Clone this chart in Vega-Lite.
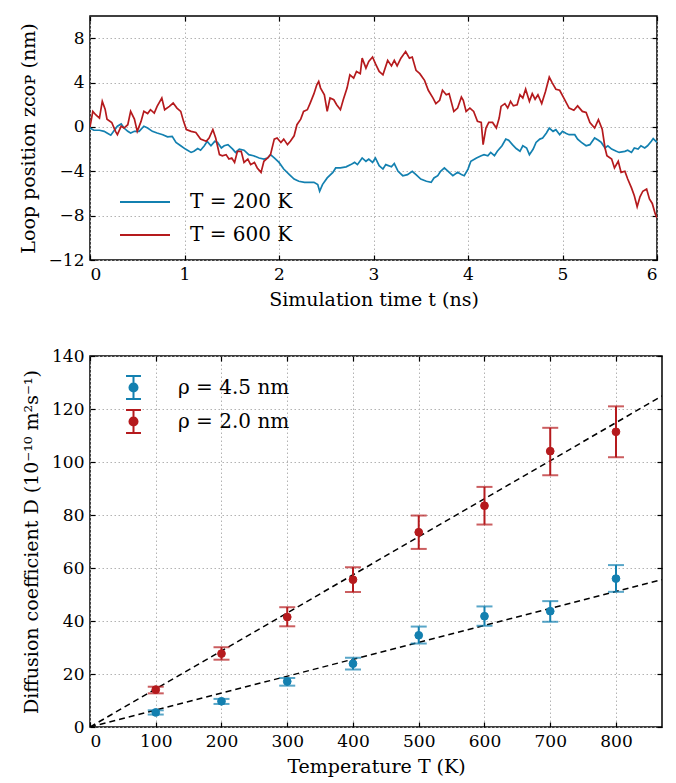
{
  "$schema": "https://vega.github.io/schema/vega-lite/v6.json",
  "padding": {"left": 18, "top": 14, "right": 12, "bottom": 0},
  "spacing": 36,
  "config": {
    "font": "DejaVu Serif",
    "view": {"stroke": "#000", "strokeWidth": 1.5},
    "axis": {"domain": false, "tickColor": "#000", "tickWidth": 1.2, "tickSize": -5, "labelFont": "DejaVu Serif", "labelFontSize": 17, "labelColor": "#000", "titleFont": "DejaVu Serif", "titleFontSize": 19, "titleFontWeight": "normal", "titleColor": "#000", "gridColor": "#b3b3b3", "gridDash": [1.5, 2.5], "gridWidth": 1, "labelPadding": 11, "titlePadding": 8},
    "axisY": {"titlePadding": 10},
    "legend": {"labelFont": "DejaVu Serif", "labelFontSize": 20, "labelColor": "#000", "title": null, "padding": 0}
  },
  "resolve": {"scale": {"color": "independent", "fill": "independent", "stroke": "independent"}, "legend": {"color": "independent", "fill": "independent", "stroke": "independent"}},
  "datasets": {
    "walk": [
      {"t":0,"z":-0.1,"s":"200 K"},{"t":0.04,"z":-0.3,"s":"200 K"},{"t":0.1,"z":-0.3,"s":"200 K"},{"t":0.15,"z":-0.4,"s":"200 K"},{"t":0.18,"z":-0.55,"s":"200 K"},{"t":0.22,"z":-0.75,"s":"200 K"},{"t":0.25,"z":-0.4,"s":"200 K"},{"t":0.29,"z":0.06,"s":"200 K"},{"t":0.33,"z":0.27,"s":"200 K"},{"t":0.36,"z":-0.1,"s":"200 K"},{"t":0.4,"z":-0.4,"s":"200 K"},{"t":0.43,"z":-0.55,"s":"200 K"},{"t":0.47,"z":-0.4,"s":"200 K"},{"t":0.52,"z":-0.4,"s":"200 K"},{"t":0.57,"z":0.06,"s":"200 K"},{"t":0.61,"z":-0.1,"s":"200 K"},{"t":0.66,"z":-0.4,"s":"200 K"},{"t":0.71,"z":-0.55,"s":"200 K"},{"t":0.77,"z":-0.7,"s":"200 K"},{"t":0.82,"z":-0.9,"s":"200 K"},{"t":0.87,"z":-0.85,"s":"200 K"},{"t":0.91,"z":-1.4,"s":"200 K"},{"t":0.96,"z":-1.7,"s":"200 K"},{"t":1.01,"z":-2.0,"s":"200 K"},{"t":1.07,"z":-2.3,"s":"200 K"},{"t":1.1,"z":-2.2,"s":"200 K"},{"t":1.14,"z":-1.95,"s":"200 K"},{"t":1.17,"z":-2.1,"s":"200 K"},{"t":1.21,"z":-1.7,"s":"200 K"},{"t":1.24,"z":-1.3,"s":"200 K"},{"t":1.28,"z":-1.7,"s":"200 K"},{"t":1.32,"z":-1.3,"s":"200 K"},{"t":1.35,"z":-1.4,"s":"200 K"},{"t":1.39,"z":-1.9,"s":"200 K"},{"t":1.42,"z":-1.7,"s":"200 K"},{"t":1.46,"z":-1.6,"s":"200 K"},{"t":1.51,"z":-2.0,"s":"200 K"},{"t":1.54,"z":-2.3,"s":"200 K"},{"t":1.58,"z":-2.0,"s":"200 K"},{"t":1.63,"z":-2.1,"s":"200 K"},{"t":1.68,"z":-2.5,"s":"200 K"},{"t":1.73,"z":-2.6,"s":"200 K"},{"t":1.79,"z":-2.8,"s":"200 K"},{"t":1.84,"z":-2.9,"s":"200 K"},{"t":1.88,"z":-2.8,"s":"200 K"},{"t":1.91,"z":-2.5,"s":"200 K"},{"t":1.95,"z":-2.8,"s":"200 K"},{"t":2.0,"z":-3.2,"s":"200 K"},{"t":2.05,"z":-3.8,"s":"200 K"},{"t":2.11,"z":-4.3,"s":"200 K"},{"t":2.16,"z":-4.7,"s":"200 K"},{"t":2.21,"z":-4.9,"s":"200 K"},{"t":2.27,"z":-5.0,"s":"200 K"},{"t":2.32,"z":-5.0,"s":"200 K"},{"t":2.37,"z":-5.0,"s":"200 K"},{"t":2.41,"z":-5.2,"s":"200 K"},{"t":2.43,"z":-5.8,"s":"200 K"},{"t":2.46,"z":-5.2,"s":"200 K"},{"t":2.51,"z":-4.6,"s":"200 K"},{"t":2.57,"z":-4.1,"s":"200 K"},{"t":2.6,"z":-3.7,"s":"200 K"},{"t":2.65,"z":-3.7,"s":"200 K"},{"t":2.71,"z":-3.6,"s":"200 K"},{"t":2.76,"z":-3.4,"s":"200 K"},{"t":2.8,"z":-3.2,"s":"200 K"},{"t":2.83,"z":-3.4,"s":"200 K"},{"t":2.88,"z":-2.8,"s":"200 K"},{"t":2.92,"z":-3.1,"s":"200 K"},{"t":2.95,"z":-2.9,"s":"200 K"},{"t":2.99,"z":-3.2,"s":"200 K"},{"t":3.02,"z":-2.8,"s":"200 K"},{"t":3.06,"z":-3.5,"s":"200 K"},{"t":3.1,"z":-3.8,"s":"200 K"},{"t":3.13,"z":-3.4,"s":"200 K"},{"t":3.19,"z":-3.6,"s":"200 K"},{"t":3.22,"z":-3.3,"s":"200 K"},{"t":3.26,"z":-4.0,"s":"200 K"},{"t":3.31,"z":-4.4,"s":"200 K"},{"t":3.36,"z":-4.3,"s":"200 K"},{"t":3.41,"z":-4.0,"s":"200 K"},{"t":3.45,"z":-4.3,"s":"200 K"},{"t":3.5,"z":-4.7,"s":"200 K"},{"t":3.56,"z":-4.9,"s":"200 K"},{"t":3.61,"z":-5.0,"s":"200 K"},{"t":3.64,"z":-4.6,"s":"200 K"},{"t":3.68,"z":-4.4,"s":"200 K"},{"t":3.71,"z":-4.0,"s":"200 K"},{"t":3.75,"z":-3.7,"s":"200 K"},{"t":3.79,"z":-4.0,"s":"200 K"},{"t":3.84,"z":-4.4,"s":"200 K"},{"t":3.89,"z":-4.1,"s":"200 K"},{"t":3.93,"z":-4.3,"s":"200 K"},{"t":3.96,"z":-4.4,"s":"200 K"},{"t":4.0,"z":-3.8,"s":"200 K"},{"t":4.03,"z":-3.1,"s":"200 K"},{"t":4.09,"z":-2.8,"s":"200 K"},{"t":4.14,"z":-2.6,"s":"200 K"},{"t":4.17,"z":-2.5,"s":"200 K"},{"t":4.21,"z":-2.6,"s":"200 K"},{"t":4.24,"z":-2.3,"s":"200 K"},{"t":4.28,"z":-2.6,"s":"200 K"},{"t":4.31,"z":-2.2,"s":"200 K"},{"t":4.36,"z":-1.7,"s":"200 K"},{"t":4.4,"z":-1.1,"s":"200 K"},{"t":4.43,"z":-1.2,"s":"200 K"},{"t":4.47,"z":-1.6,"s":"200 K"},{"t":4.51,"z":-1.95,"s":"200 K"},{"t":4.55,"z":-2.2,"s":"200 K"},{"t":4.58,"z":-1.7,"s":"200 K"},{"t":4.62,"z":-1.9,"s":"200 K"},{"t":4.65,"z":-2.5,"s":"200 K"},{"t":4.69,"z":-2.0,"s":"200 K"},{"t":4.72,"z":-1.4,"s":"200 K"},{"t":4.76,"z":-1.1,"s":"200 K"},{"t":4.79,"z":-1.0,"s":"200 K"},{"t":4.83,"z":-0.55,"s":"200 K"},{"t":4.86,"z":-0.1,"s":"200 K"},{"t":4.9,"z":-0.4,"s":"200 K"},{"t":4.93,"z":-0.25,"s":"200 K"},{"t":4.97,"z":-0.7,"s":"200 K"},{"t":5.0,"z":-0.4,"s":"200 K"},{"t":5.04,"z":-0.6,"s":"200 K"},{"t":5.07,"z":-0.7,"s":"200 K"},{"t":5.13,"z":-0.7,"s":"200 K"},{"t":5.16,"z":-1.1,"s":"200 K"},{"t":5.2,"z":-1.4,"s":"200 K"},{"t":5.25,"z":-1.7,"s":"200 K"},{"t":5.29,"z":-1.6,"s":"200 K"},{"t":5.34,"z":-1.0,"s":"200 K"},{"t":5.38,"z":-1.2,"s":"200 K"},{"t":5.41,"z":-1.4,"s":"200 K"},{"t":5.45,"z":-1.9,"s":"200 K"},{"t":5.48,"z":-1.7,"s":"200 K"},{"t":5.52,"z":-2.0,"s":"200 K"},{"t":5.57,"z":-2.2,"s":"200 K"},{"t":5.6,"z":-2.3,"s":"200 K"},{"t":5.66,"z":-2.2,"s":"200 K"},{"t":5.69,"z":-2.1,"s":"200 K"},{"t":5.73,"z":-2.3,"s":"200 K"},{"t":5.76,"z":-1.9,"s":"200 K"},{"t":5.8,"z":-2.0,"s":"200 K"},{"t":5.83,"z":-1.7,"s":"200 K"},{"t":5.87,"z":-1.9,"s":"200 K"},{"t":5.9,"z":-1.7,"s":"200 K"},{"t":5.94,"z":-1.3,"s":"200 K"},{"t":5.96,"z":-1.05,"s":"200 K"},{"t":6.0,"z":-1.4,"s":"200 K"},
      {"t":0,"z":0,"s":"600 K"},{"t":0.03,"z":1.4,"s":"600 K"},{"t":0.06,"z":1.1,"s":"600 K"},{"t":0.1,"z":0.8,"s":"600 K"},{"t":0.13,"z":2.3,"s":"600 K"},{"t":0.16,"z":1.6,"s":"600 K"},{"t":0.18,"z":0.7,"s":"600 K"},{"t":0.23,"z":0.4,"s":"600 K"},{"t":0.27,"z":-0.4,"s":"600 K"},{"t":0.29,"z":-0.7,"s":"600 K"},{"t":0.33,"z":0.06,"s":"600 K"},{"t":0.36,"z":-0.1,"s":"600 K"},{"t":0.4,"z":0.2,"s":"600 K"},{"t":0.43,"z":1.4,"s":"600 K"},{"t":0.47,"z":0.7,"s":"600 K"},{"t":0.5,"z":-0.4,"s":"600 K"},{"t":0.54,"z":0.5,"s":"600 K"},{"t":0.57,"z":1.4,"s":"600 K"},{"t":0.61,"z":1.2,"s":"600 K"},{"t":0.64,"z":1.55,"s":"600 K"},{"t":0.68,"z":1.25,"s":"600 K"},{"t":0.71,"z":1.85,"s":"600 K"},{"t":0.76,"z":2.6,"s":"600 K"},{"t":0.79,"z":1.55,"s":"600 K"},{"t":0.84,"z":1.85,"s":"600 K"},{"t":0.88,"z":2.15,"s":"600 K"},{"t":0.92,"z":1.7,"s":"600 K"},{"t":0.96,"z":1.4,"s":"600 K"},{"t":0.99,"z":0.5,"s":"600 K"},{"t":1.02,"z":-0.24,"s":"600 K"},{"t":1.07,"z":-0.4,"s":"600 K"},{"t":1.12,"z":-0.5,"s":"600 K"},{"t":1.17,"z":-1.1,"s":"600 K"},{"t":1.23,"z":-1.3,"s":"600 K"},{"t":1.26,"z":-1.0,"s":"600 K"},{"t":1.3,"z":-0.24,"s":"600 K"},{"t":1.33,"z":-1.0,"s":"600 K"},{"t":1.37,"z":-2.5,"s":"600 K"},{"t":1.4,"z":-2.6,"s":"600 K"},{"t":1.44,"z":-2.5,"s":"600 K"},{"t":1.47,"z":-2.9,"s":"600 K"},{"t":1.5,"z":-2.8,"s":"600 K"},{"t":1.53,"z":-3.2,"s":"600 K"},{"t":1.56,"z":-2.2,"s":"600 K"},{"t":1.6,"z":-2.2,"s":"600 K"},{"t":1.63,"z":-3.2,"s":"600 K"},{"t":1.67,"z":-2.9,"s":"600 K"},{"t":1.7,"z":-3.4,"s":"600 K"},{"t":1.74,"z":-3.2,"s":"600 K"},{"t":1.77,"z":-3.7,"s":"600 K"},{"t":1.81,"z":-4.1,"s":"600 K"},{"t":1.84,"z":-3.1,"s":"600 K"},{"t":1.88,"z":-2.8,"s":"600 K"},{"t":1.91,"z":-2.5,"s":"600 K"},{"t":1.95,"z":-1.1,"s":"600 K"},{"t":1.98,"z":-1.0,"s":"600 K"},{"t":2.02,"z":-1.4,"s":"600 K"},{"t":2.05,"z":-1.1,"s":"600 K"},{"t":2.09,"z":-1.6,"s":"600 K"},{"t":2.12,"z":-1.3,"s":"600 K"},{"t":2.16,"z":-0.8,"s":"600 K"},{"t":2.19,"z":0.2,"s":"600 K"},{"t":2.23,"z":0.7,"s":"600 K"},{"t":2.26,"z":1.4,"s":"600 K"},{"t":2.3,"z":1.55,"s":"600 K"},{"t":2.33,"z":2.15,"s":"600 K"},{"t":2.37,"z":3.0,"s":"600 K"},{"t":2.4,"z":3.8,"s":"600 K"},{"t":2.42,"z":4.1,"s":"600 K"},{"t":2.44,"z":3.5,"s":"600 K"},{"t":2.48,"z":2.9,"s":"600 K"},{"t":2.51,"z":1.4,"s":"600 K"},{"t":2.54,"z":2.6,"s":"600 K"},{"t":2.58,"z":2.45,"s":"600 K"},{"t":2.61,"z":2.0,"s":"600 K"},{"t":2.65,"z":1.55,"s":"600 K"},{"t":2.68,"z":2.45,"s":"600 K"},{"t":2.72,"z":3.5,"s":"600 K"},{"t":2.75,"z":4.7,"s":"600 K"},{"t":2.79,"z":4.4,"s":"600 K"},{"t":2.82,"z":5.0,"s":"600 K"},{"t":2.86,"z":4.8,"s":"600 K"},{"t":2.88,"z":6.2,"s":"600 K"},{"t":2.92,"z":5.3,"s":"600 K"},{"t":2.95,"z":5.9,"s":"600 K"},{"t":2.99,"z":6.3,"s":"600 K"},{"t":3.02,"z":5.7,"s":"600 K"},{"t":3.06,"z":5.0,"s":"600 K"},{"t":3.1,"z":4.7,"s":"600 K"},{"t":3.15,"z":6.0,"s":"600 K"},{"t":3.19,"z":5.5,"s":"600 K"},{"t":3.22,"z":6.0,"s":"600 K"},{"t":3.25,"z":5.5,"s":"600 K"},{"t":3.29,"z":6.2,"s":"600 K"},{"t":3.34,"z":6.8,"s":"600 K"},{"t":3.38,"z":6.2,"s":"600 K"},{"t":3.41,"z":6.3,"s":"600 K"},{"t":3.45,"z":5.1,"s":"600 K"},{"t":3.49,"z":4.8,"s":"600 K"},{"t":3.54,"z":4.2,"s":"600 K"},{"t":3.58,"z":3.3,"s":"600 K"},{"t":3.63,"z":2.6,"s":"600 K"},{"t":3.66,"z":2.1,"s":"600 K"},{"t":3.7,"z":2.4,"s":"600 K"},{"t":3.73,"z":3.3,"s":"600 K"},{"t":3.77,"z":2.9,"s":"600 K"},{"t":3.8,"z":3.0,"s":"600 K"},{"t":3.85,"z":1.4,"s":"600 K"},{"t":3.89,"z":1.7,"s":"600 K"},{"t":3.93,"z":2.7,"s":"600 K"},{"t":3.95,"z":2.4,"s":"600 K"},{"t":3.98,"z":1.4,"s":"600 K"},{"t":4.02,"z":1.7,"s":"600 K"},{"t":4.06,"z":1.4,"s":"600 K"},{"t":4.1,"z":0.5,"s":"600 K"},{"t":4.14,"z":0.4,"s":"600 K"},{"t":4.16,"z":-1.6,"s":"600 K"},{"t":4.19,"z":-0.1,"s":"600 K"},{"t":4.22,"z":0.4,"s":"600 K"},{"t":4.26,"z":0.4,"s":"600 K"},{"t":4.3,"z":-0.1,"s":"600 K"},{"t":4.33,"z":0.8,"s":"600 K"},{"t":4.35,"z":1.85,"s":"600 K"},{"t":4.39,"z":2.1,"s":"600 K"},{"t":4.42,"z":1.7,"s":"600 K"},{"t":4.45,"z":2.3,"s":"600 K"},{"t":4.48,"z":1.9,"s":"600 K"},{"t":4.52,"z":2.0,"s":"600 K"},{"t":4.55,"z":2.9,"s":"600 K"},{"t":4.58,"z":2.6,"s":"600 K"},{"t":4.61,"z":3.4,"s":"600 K"},{"t":4.65,"z":2.3,"s":"600 K"},{"t":4.68,"z":3.0,"s":"600 K"},{"t":4.71,"z":2.5,"s":"600 K"},{"t":4.74,"z":2.9,"s":"600 K"},{"t":4.78,"z":2.1,"s":"600 K"},{"t":4.82,"z":3.2,"s":"600 K"},{"t":4.86,"z":4.5,"s":"600 K"},{"t":4.89,"z":4.0,"s":"600 K"},{"t":4.93,"z":3.4,"s":"600 K"},{"t":4.97,"z":3.3,"s":"600 K"},{"t":5.02,"z":2.5,"s":"600 K"},{"t":5.07,"z":1.7,"s":"600 K"},{"t":5.12,"z":1.5,"s":"600 K"},{"t":5.16,"z":1.9,"s":"600 K"},{"t":5.21,"z":1.4,"s":"600 K"},{"t":5.25,"z":1.3,"s":"600 K"},{"t":5.29,"z":0.4,"s":"600 K"},{"t":5.34,"z":-0.1,"s":"600 K"},{"t":5.38,"z":0.65,"s":"600 K"},{"t":5.42,"z":-0.2,"s":"600 K"},{"t":5.45,"z":-1.9,"s":"600 K"},{"t":5.47,"z":-2.6,"s":"600 K"},{"t":5.52,"z":-2.9,"s":"600 K"},{"t":5.55,"z":-3.7,"s":"600 K"},{"t":5.59,"z":-3.1,"s":"600 K"},{"t":5.62,"z":-4.1,"s":"600 K"},{"t":5.66,"z":-4.0,"s":"600 K"},{"t":5.69,"z":-4.7,"s":"600 K"},{"t":5.73,"z":-5.5,"s":"600 K"},{"t":5.76,"z":-6.2,"s":"600 K"},{"t":5.79,"z":-7.2,"s":"600 K"},{"t":5.82,"z":-6.3,"s":"600 K"},{"t":5.85,"z":-5.8,"s":"600 K"},{"t":5.89,"z":-5.6,"s":"600 K"},{"t":5.92,"z":-6.5,"s":"600 K"},{"t":5.95,"z":-6.9,"s":"600 K"},{"t":5.98,"z":-7.8,"s":"600 K"},{"t":6.0,"z":-8.2,"s":"600 K"}
    ],
    "diff": [
      {"T":100,"D":5.5,"lo":4.7,"hi":6.3,"rho":"ρ = 4.5 nm"},
      {"T":200,"D":9.7,"lo":8.7,"hi":10.6,"rho":"ρ = 4.5 nm"},
      {"T":300,"D":17.2,"lo":15.6,"hi":18.5,"rho":"ρ = 4.5 nm"},
      {"T":400,"D":23.9,"lo":21.7,"hi":26.1,"rho":"ρ = 4.5 nm"},
      {"T":500,"D":34.6,"lo":31.5,"hi":37.9,"rho":"ρ = 4.5 nm"},
      {"T":600,"D":41.8,"lo":38.2,"hi":45.5,"rho":"ρ = 4.5 nm"},
      {"T":700,"D":43.7,"lo":39.7,"hi":47.5,"rho":"ρ = 4.5 nm"},
      {"T":800,"D":56.0,"lo":51.0,"hi":61.1,"rho":"ρ = 4.5 nm"},
      {"T":100,"D":14.1,"lo":12.7,"hi":15.2,"rho":"ρ = 2.0 nm"},
      {"T":200,"D":27.7,"lo":25.4,"hi":30.1,"rho":"ρ = 2.0 nm"},
      {"T":300,"D":41.5,"lo":38.0,"hi":45.2,"rho":"ρ = 2.0 nm"},
      {"T":400,"D":55.6,"lo":50.9,"hi":60.3,"rho":"ρ = 2.0 nm"},
      {"T":500,"D":73.5,"lo":67.2,"hi":79.8,"rho":"ρ = 2.0 nm"},
      {"T":600,"D":83.5,"lo":76.4,"hi":90.6,"rho":"ρ = 2.0 nm"},
      {"T":700,"D":104.1,"lo":95.0,"hi":112.9,"rho":"ρ = 2.0 nm"},
      {"T":800,"D":111.4,"lo":101.8,"hi":121.0,"rho":"ρ = 2.0 nm"}
    ],
    "fit": [
      {"T":0,"D":0,"g":"4.5"},{"T":870,"D":55.6,"g":"4.5"},
      {"T":0,"D":0,"g":"2.0"},{"T":870,"D":124.9,"g":"2.0"}
    ]
  },
  "vconcat": [
    {
      "width": 567,
      "height": 244,
      "data": {"name": "walk"},
      "resolve": {"axis": {"x": "independent", "y": "independent"}},
      "layer": [
        {
          "mark": {"type": "line", "strokeWidth": 1.7, "clip": true},
          "encoding": {
            "x": {"field": "t", "type": "quantitative", "scale": {"domain": [0, 6], "nice": false},
                  "axis": {"title": "Simulation time t (ns)", "values": [0,1,2,3,4,5,6], "format": "d", "grid": true}},
            "y": {"field": "z", "type": "quantitative", "scale": {"domain": [-12, 10], "nice": false},
                  "axis": {"title": "Loop position zᴄᴏᴘ (nm)", "values": [-12,-8,-4,0,4,8], "format": "d", "grid": true}},
            "color": {"field": "s", "type": "nominal",
                      "scale": {"domain": ["200 K", "600 K"], "range": ["#1380b0", "#b51a1d"]},
                      "legend": {"orient": "none", "legendX": 45, "legendY": 176, "symbolType": "M-4,0H4", "symbolSize": 156.25, "symbolStrokeWidth": 2, "labelOffset": 35, "rowPadding": 13, "labelExpr": "'T = ' + datum.label"}}
          }
        },
        {
          "mark": {"type": "line", "opacity": 0},
          "encoding": {
            "x": {"field": "t", "type": "quantitative", "axis": {"orient": "top", "labels": false, "grid": false, "title": null, "values": [0,1,2,3,4,5,6]}},
            "y": {"field": "z", "type": "quantitative", "axis": {"orient": "right", "labels": false, "grid": false, "title": null, "values": [-12,-8,-4,0,4,8]}},
            "detail": {"field": "s"}
          }
        }
      ]
    },
    {
      "width": 572,
      "height": 371,
      "resolve": {"axis": {"x": "independent", "y": "independent"}},
      "layer": [
        {
          "data": {"name": "fit"},
          "mark": {"type": "line", "color": "#000", "strokeWidth": 1.5, "strokeDash": [6, 4], "clip": true},
          "encoding": {
            "x": {"field": "T", "type": "quantitative", "scale": {"domain": [0, 870], "nice": false},
                  "axis": {"title": "Temperature T (K)", "values": [0,100,200,300,400,500,600,700,800], "grid": true}},
            "y": {"field": "D", "type": "quantitative", "scale": {"domain": [0, 140], "nice": false},
                  "axis": {"title": "Diffusion coefficient D (10⁻¹⁰ m²s⁻¹)", "values": [0,20,40,60,80,100,120,140], "grid": true}},
            "detail": {"field": "g"}
          }
        },
        {
          "data": {"name": "diff"},
          "mark": {"type": "rule", "strokeWidth": 2},
          "encoding": {
            "x": {"field": "T", "type": "quantitative", "axis": null},
            "y": {"field": "lo", "type": "quantitative", "axis": null},
            "y2": {"field": "hi"},
            "stroke": {"field": "rho", "type": "nominal", "scale": {"domain": ["ρ = 4.5 nm", "ρ = 2.0 nm"], "range": ["#1380b0", "#b51a1d"]},
                       "legend": {"orient": "none", "legendX": 31, "legendY": 19, "symbolType": "M-0.65,-1H0.65M0,-1V1M-0.65,1H0.65M0.35,0A0.35,0.35,0,1,1,-0.35,0A0.35,0.35,0,1,1,0.35,0Z", "symbolSize": 529, "symbolStrokeWidth": 2, "labelOffset": 32, "rowPadding": 3}}
          }
        },
        {
          "data": {"name": "diff"},
          "mark": {"type": "tick", "orient": "horizontal", "size": 16, "thickness": 2},
          "encoding": {
            "x": {"field": "T", "type": "quantitative", "axis": null},
            "y": {"field": "lo", "type": "quantitative", "axis": null},
            "color": {"field": "rho", "type": "nominal", "scale": {"domain": ["ρ = 4.5 nm", "ρ = 2.0 nm"], "range": ["#1380b0", "#b51a1d"]}, "legend": null}
          }
        },
        {
          "data": {"name": "diff"},
          "mark": {"type": "tick", "orient": "horizontal", "size": 16, "thickness": 2},
          "encoding": {
            "x": {"field": "T", "type": "quantitative", "axis": null},
            "y": {"field": "hi", "type": "quantitative", "axis": null},
            "color": {"field": "rho", "type": "nominal", "legend": null}
          }
        },
        {
          "data": {"name": "diff"},
          "mark": {"type": "point", "filled": true, "size": 60, "strokeWidth": 1, "opacity": 1},
          "encoding": {
            "x": {"field": "T", "type": "quantitative", "axis": {"orient": "top", "labels": false, "grid": false, "title": null, "values": [0,100,200,300,400,500,600,700,800]}},
            "y": {"field": "D", "type": "quantitative", "axis": {"orient": "right", "labels": false, "grid": false, "title": null, "values": [0,20,40,60,80,100,120,140]}},
            "fill": {"field": "rho", "type": "nominal", "scale": {"domain": ["ρ = 4.5 nm", "ρ = 2.0 nm"], "range": ["#1380b0", "#b51a1d"]},
                     "legend": {"orient": "none", "legendX": 31, "legendY": 19, "symbolType": "M-0.65,-1H0.65M0,-1V1M-0.65,1H0.65M0.35,0A0.35,0.35,0,1,1,-0.35,0A0.35,0.35,0,1,1,0.35,0Z", "symbolSize": 529, "symbolStrokeWidth": 2, "labelOffset": 32, "rowPadding": 3}},
            "stroke": {"field": "rho", "type": "nominal"}
          }
        }
      ]
    }
  ]
}
